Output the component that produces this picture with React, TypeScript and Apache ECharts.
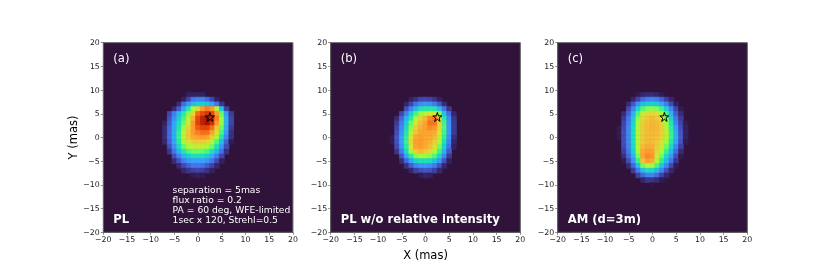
import React, { useEffect, useRef } from "react";
import * as echarts from "echarts";

const turboStops = ["#30123b","#4145ab","#4675ed","#39a2fc","#1bcfd4","#24eca6","#61fc6c","#a4fc3b","#d1e834","#f3c63a","#fe9b2d","#f36315","#d93806","#b11901","#7a0402"];
const axisTicks = [-20, -15, -10, -5, 0, 5, 10, 15, 20];
const starPoint = [2.5, 4.33];
const panelTags = ["(a)", "(b)", "(c)"];
const panelNames = ["PL", "PL w/o relative intensity", "AM (d=3m)"];
const noteLines = ["separation = 5mas", "flux ratio = 0.2", "PA = 60 deg, WFE-limited", "1sec x 120, Strehl=0.5"];

// each row: [y, first x, values for x, x+1, ...] on the colour scale 0..14
const rowsA: number[][] = [
  [9, -2, .3,.3,.3,.3],
  [8, -3, .3,1,2,2.3,2.3,1.8,1,.3],
  [7, -4, .5,1.8,2.7,3.5,4,4,3.7,3,2,.7],
  [6, -5, .5,1.5,3,5,7,8.5,10,10.5,10,7.5,3.8,.9],
  [5, -6, 1,2.2,3.5,5,6.5,8.5,10.8,11.6,12,11.6,10,6,2.8,.8],
  [4, -6, 1.3,2.6,4,5.5,7.5,9.5,11.6,12.7,13.3,12.6,10.5,6.8,3.3,1],
  [3, -7, .3,1.5,3,4.5,6,8,10,11.7,12.7,13.2,12.2,10,6.8,3.4,1],
  [2, -7, .5,1.7,3.2,4.8,6.8,8.6,10,11.2,11.7,11.7,10.8,9,6.2,3.2,.8],
  [1, -7, .5,1.8,3.3,5.2,7.3,9,10,10.5,10.8,10.8,9.9,8.2,5.6,2.8,.6],
  [0, -7, .5,1.8,3.3,5.3,7.5,9,9.6,9.8,10,9.8,8.8,7,4.8,2.4,.6],
  [-1, -7, .4,1.6,3,5,6.9,8.2,8.7,8.8,8.8,8.4,7.4,5.7,3.6,1.6,.2],
  [-2, -6, 1.2,2.6,4.4,6,7.2,7.7,7.7,7.6,7.2,6.2,4.6,2.7,1.1],
  [-3, -6, .7,2,3.4,4.8,5.7,6.1,6.1,6,5.6,4.6,3.4,1.9,.6],
  [-4, -5, 1.2,2.3,3.3,4,4.5,4.5,4.4,4,3.2,2.1,1],
  [-5, -5, .5,1.3,2.2,2.8,3,3,3,2.7,2,1.1,.3],
  [-6, -4, .5,1.1,1.6,2,2,1.9,1.5,1,.4],
  [-7, -3, .4,.7,.9,1,.9,.6,.3],
  [-8, -1, .2,.3,.2],
];

const rowsB: number[][] = [
  [8, -3, .3,.6,1,1.1,1,.7,.3],
  [7, -4, .4,1,1.9,2.5,2.7,2.6,2.1,1.4,.5],
  [6, -4, 1.2,2.3,3.5,4.6,5,5,4.8,3.6,2,.7],
  [5, -5, 1,2.3,3.9,5.5,6.7,7.5,8,8,6.5,3.7,1.8,.4],
  [4, -6, .5,1.7,3.3,5,7,8.5,9.3,10.3,10.5,8.5,5,2.5,.7],
  [3, -6, .8,2.1,3.9,6,8,9.2,9.8,10.7,10.6,8.7,5.5,2.7,.8],
  [2, -6, 1,2.4,4.3,6.6,8.7,9.5,9.9,10.3,10.1,8.5,5.7,2.8,.8],
  [1, -6, 1.2,2.6,4.8,7.2,9.1,9.7,9.8,9.8,9.6,8,5.5,2.8,.8],
  [0, -7, .2,1.4,2.9,5.2,8,9.6,9.9,9.7,9.6,9.2,7.6,5.2,2.6,.6],
  [-1, -7, .2,1.3,2.9,5.4,8.4,9.9,10,9.7,9.5,8.7,7,4.6,2.3,.4],
  [-2, -6, 1.1,2.7,5,8,9.8,10,9.6,9.2,8.2,6.3,4,1.9,.3],
  [-3, -6, .7,2,4.3,6.9,8.8,9.3,8.9,8.4,7.3,5.4,3.3,1.4],
  [-4, -5, 1.3,3,5,6.5,7,6.9,6.5,5.7,4.2,2.4,.8],
  [-5, -5, .5,1.7,3,4.2,4.6,4.6,4.4,3.7,2.7,1.3,.3],
  [-6, -4, .6,1.5,2.3,2.7,2.8,2.6,2.1,1.3,.4],
  [-7, -3, .4,.9,1.2,1.4,1.3,.9,.4],
  [-8, -1, .2,.4,.3],
];

const rowsC: number[][] = [
  [9, -3, .2,.4,.5,.5,.4,.2],
  [8, -4, .4,1,1.8,2.2,2.4,2.2,1.6,.9,.4],
  [7, -5, .5,1.4,2.6,3.6,4,4.1,3.8,3.1,2.1,1.1,.3],
  [6, -5, 1.1,2.4,4.3,5.8,6.5,6.7,6.4,5.5,4,2.4,1,.2],
  [5, -6, .5,1.6,3.3,5.6,7.6,8.3,8.5,8.2,7.3,5.5,3.3,1.5,.5],
  [4, -6, .8,2,3.9,6.6,8.4,9,9.2,9,8.2,6.5,4.1,2,.8],
  [3, -6, 1,2.2,4.2,7.1,8.7,9.2,9.4,9.2,8.6,7,4.8,2.4,1,.2],
  [2, -7, .2,1.1,2.4,4.4,7.4,8.8,9.2,9.4,9.3,8.7,7.3,5.2,2.9,1.2,.3],
  [1, -7, .2,1.2,2.4,4.5,7.5,8.8,9.2,9.3,9.2,8.7,7.5,5.4,3.2,1.4,.3],
  [0, -7, .2,1.2,2.4,4.5,7.5,8.8,9.2,9.2,9.1,8.6,7.5,5.5,3.4,1.5,.3],
  [-1, -6, 1.2,2.4,4.5,7.4,8.9,9.3,9.2,8.9,8.2,6.9,5,3,1.3,.2],
  [-2, -6, 1.1,2.3,4.4,7.3,9.2,9.6,9.5,8.7,7.7,6.2,4.3,2.4,.9],
  [-3, -6, .9,2.1,4,7,9.6,10,9.9,8.4,7,5.3,3.5,1.8,.5],
  [-4, -6, .6,1.7,3.4,6.3,9.8,10.3,10.1,8,6.2,4.3,2.8,1.2,.2],
  [-5, -6, .2,1.2,2.7,5.3,9.1,9.9,9.6,7.2,5.2,3.5,2,.7],
  [-6, -5, .5,1.7,3.6,6.3,7.3,7.1,5.6,3.8,2.4,1.1,.2],
  [-7, -4, .8,2.1,3.6,4.4,4.3,3.4,2.3,1.2,.4],
  [-8, -3, .9,1.7,2.3,2.3,1.8,1,.4],
  [-9, -2, .4,.7,.7,.5,.2],
  [-10, 0, .1],
];

const cells = (rows: number[][]) =>
  rows.flatMap((r) => r.slice(2).map((v, i) => [r[1] + i, r[0], v]));

const panelLeft = [103.3, 330.7, 557.7];
const plotTop = 42.7;
const plotSize = 189.6;
const STAR = "path://M50 2 L61 37 L98 37 L68 59 L79 94 L50 72 L21 94 L32 59 L2 37 L39 37 Z";
const FONT = "'DejaVu Sans', sans-serif";
const FRAME = "#5f5f5f";
const TICKTEXT = "#1c1c1c";

const renderCell = (_: any, api: any) => {
  const x = api.value(0), y = api.value(1);
  const a = api.coord([x - 0.5, y + 0.5]);
  const b = api.coord([x + 0.5, y - 0.5]);
  const c = api.visual("color");
  return {
    type: "rect",
    shape: { x: a[0], y: a[1], width: b[0] - a[0], height: b[1] - a[1] },
    style: { fill: c, stroke: c, lineWidth: 0.8 },
  };
};

const tickLabel = (v: number) => String(v).replace("-", "\u2212");

export default function App() {
  const ref = useRef<HTMLDivElement>(null);
  useEffect(() => {
    const chart = echarts.init(ref.current!, undefined, { renderer: "svg" });
    const all = [rowsA, rowsB, rowsC];
    const axisCommon = {
      type: "value" as const,
      min: axisTicks[0],
      max: axisTicks[axisTicks.length - 1],
      interval: 5,
      splitLine: { show: false },
      axisLine: { show: true, onZero: false, lineStyle: { color: FRAME, width: 1 } },
      axisTick: { show: true, length: 2.5, lineStyle: { color: FRAME, width: 0.7 } },
      axisLabel: { fontFamily: FONT, fontSize: 7.8, color: TICKTEXT, margin: 3.5, formatter: tickLabel, showMinLabel: true, showMaxLabel: true, hideOverlap: false },
      nameLocation: "middle" as const,
      nameTextStyle: { fontFamily: FONT, fontSize: 11.5, color: "#000" },
    };
    const text = (t: string, x: number, y: number, size: number, weight = "normal") => ({
      type: "text", x, y,
      style: { text: t, fill: "#fff", fontFamily: FONT, fontSize: size, fontWeight: weight, verticalAlign: "middle" },
      z: 10,
    });
    chart.setOption({
      animation: false,
      backgroundColor: "#ffffff",
      grid: panelLeft.map((left) => ({
        left, top: plotTop, width: plotSize, height: plotSize,
        show: true, backgroundColor: turboStops[0], borderColor: FRAME, borderWidth: 1,
      })),
      xAxis: panelLeft.map((_, i) => ({ ...axisCommon, gridIndex: i, name: i === 1 ? "X (mas)" : "", nameGap: 13.5 })),
      yAxis: panelLeft.map((_, i) => ({ ...axisCommon, gridIndex: i, name: i === 0 ? "Y (mas)" : "", nameGap: 20 })),
      visualMap: { show: false, type: "continuous", min: 0, max: 14, dimension: 2, seriesIndex: [0, 1, 2], inRange: { color: turboStops } },
      series: [
        ...all.map((rows, i) => ({
          type: "custom", xAxisIndex: i, yAxisIndex: i, renderItem: renderCell,
          encode: { x: 0, y: 1 }, data: cells(rows), clip: true,
        })),
        ...all.map((_, i) => ({
          type: "scatter", xAxisIndex: i, yAxisIndex: i, data: [starPoint], symbol: STAR, symbolSize: 9, z: 5,
          itemStyle: { color: "rgba(0,0,0,0)", borderColor: "#000", borderWidth: 1, opacity: 1 },
          silent: true,
        })),
      ],
      graphic: [
        ...panelTags.map((t, i) => text(t, panelLeft[i] + 10, 58, 11.6)),
        ...panelNames.map((t, i) => text(t, panelLeft[i] + 10, 219, 11.6, "bold")),
        ...noteLines.map((t, i) => text(t, 172.6, 189 + i * 10.25, 9.2)),
      ],
    });
    return () => chart.dispose();
  }, []);
  return <div ref={ref} style={{ position: "absolute", left: 0, top: 0, width: 830, height: 277, filter: "blur(0.35px)" }} />;
}
